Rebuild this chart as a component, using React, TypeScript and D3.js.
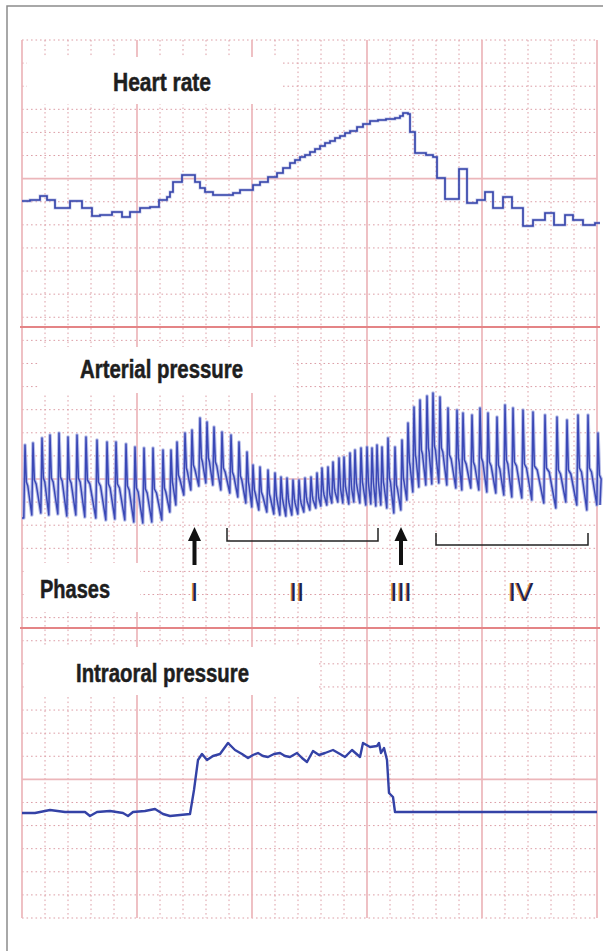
import React, { useRef, useEffect } from 'react'
import * as d3 from "d3";

// Heart rate (bpm), step trace
const hrTime = [0, 0.8, 1.8, 2.5, 3.3, 4.8, 6.0, 7.0, 7.8, 9.0, 10.0, 10.8, 11.8, 12.8, 13.7, 14.5, 14.8, 15.1, 16.0, 17.3, 17.8, 18.3, 19.1, 21.1, 21.8, 23.1, 23.8, 24.6, 25.5, 26.1, 26.8, 27.3, 27.8, 28.3, 28.8, 29.3, 29.8, 30.3, 30.8, 31.3, 31.8, 32.3, 32.8, 33.5, 34.1, 34.8, 35.6, 36.4, 37.3, 37.8, 38.1, 38.6, 38.8, 39.3, 40.4, 41.1, 41.5, 42.3, 43.7, 44.5, 45.5, 46.3, 47.1, 48.1, 49.0, 50.1, 51.1, 52.3, 53.2, 54.3, 55.1, 56.1, 57.3, 57.8];
const hrBpm = [89, 90, 94, 90, 82, 89, 82, 74, 75, 78, 73, 78, 82, 83, 90, 93, 98, 108, 115, 108, 102, 98, 95, 97, 100, 105, 108, 113, 117, 122, 127, 130, 133, 135, 138, 141, 144, 147, 149, 152, 154, 157, 159, 163, 166, 169, 170, 171, 172, 174, 177, 176, 158, 137, 135, 133, 112, 91, 121, 87, 90, 98, 82, 93, 82, 64, 70, 77, 65, 75, 70, 65, 67, 67];

// Arterial pressure, one entry per beat (peak time, systolic, dicrotic notch, diastolic before the beat)
const beatTime = [0.3, 1.1, 2.0, 2.8, 3.7, 4.6, 5.5, 6.4, 7.5, 8.5, 9.4, 10.4, 11.3, 12.2, 13.1, 14.1, 14.9, 15.5, 16.3, 17.0, 17.8, 18.5, 19.2,
    20.0, 20.9, 21.7, 22.5, 23.1, 23.8, 24.6, 25.3, 25.9, 26.5, 27.1, 27.7, 28.3, 28.9, 29.5, 30.0, 30.6, 31.1, 31.7, 32.2, 32.8, 33.3, 33.9, 34.5, 35.0, 35.5, 36.0, 36.6, 37.3, 38.0,
    38.6, 39.2, 39.8, 40.5, 41.1, 41.8, 42.6, 43.5, 44.1, 45.0, 45.8, 46.6, 47.5, 48.3, 49.1, 50.1, 51.1, 52.3, 53.5, 54.5, 55.6, 56.6, 57.6];
const apSys = [115, 117, 122, 125, 127, 123, 125, 123, 120, 118, 118, 116, 113, 112, 112, 110, 110, 118, 127, 130, 142, 138, 133,
    128, 125, 118, 108, 95, 93, 90, 87, 83, 82, 80, 80, 82, 83, 87, 92, 93, 98, 102, 103, 107, 110, 112, 113, 112, 115, 113, 122, 113, 120,
    137, 153, 160, 164, 167, 163, 152, 150, 147, 145, 152, 147, 143, 155, 152, 150, 148, 145, 143, 140, 145, 145, 127];
const apNotch = [78, 80, 82, 82, 83, 81, 82, 80, 78, 76, 76, 74, 72, 71, 71, 72, 78, 85, 92, 95, 102, 102, 98,
    92, 88, 84, 78, 70, 68, 66, 64, 62, 61, 61, 61, 63, 64, 66, 69, 70, 72, 74, 74, 75, 77, 78, 78, 78, 79, 78, 82, 75, 82,
    98, 105, 110, 112, 114, 112, 105, 102, 100, 98, 102, 98, 95, 100, 98, 96, 94, 92, 90, 90, 92, 92, 85];
const apDia = [42, 45, 47, 45, 46, 44, 45, 43, 42, 40, 41, 40, 38, 37, 38, 40, 48, 55, 65, 70, 74, 77, 75,
    70, 67, 63, 57, 53, 50, 48, 46, 45, 44, 45, 46, 48, 50, 52, 54, 55, 57, 58, 57, 56, 58, 57, 55, 56, 54, 55, 52, 47, 50,
    60, 68, 73, 75, 76, 77, 75, 72, 70, 72, 70, 68, 67, 65, 63, 62, 60, 57, 52, 58, 55, 50, 55];

// Intraoral pressure
const iopTime = [0, 1.3, 2.8, 4.3, 6.3, 6.8, 7.5, 8.8, 10.1, 10.6, 11.1, 12.3, 13.3, 14.1, 14.8, 15.8, 16.8, 17.2, 17.6, 18.0, 18.5, 19.1, 19.8, 20.6, 21.3, 22.0, 22.6, 23.1, 23.6, 24.1, 24.6, 25.2, 25.8, 26.3, 26.8, 27.5, 28.0, 28.5, 29.1, 29.7, 30.3, 31.1, 31.8, 32.3, 33.0, 33.8, 34.1, 34.8, 35.5, 35.7, 35.9, 36.2, 36.5, 36.7, 37.1, 37.3, 42.8, 57.5];
const iopValue = [-1, -1, 2, 0, 0, -4, 0, 1, -1, -4, 0, 1, 3, -2, -4, -3, -2, 22, 52, 58, 52, 56, 58, 69, 62, 58, 54, 57, 59, 56, 55, 58, 59, 56, 55, 59, 54, 50, 61, 57, 59, 62, 58, 55, 62, 55, 69, 65, 66, 69, 59, 64, 52, 19, 15, 0, 0, 0];

// Phases
const phaseLabels = ["I", "II", "III", "IV"];
const phaseTime = [17.25, 27.5, 37.9, 49.9];
const arrowTime = [17.25, 37.9];
const bracketStart = [20.5, 41.4];
const bracketEnd = [35.6, 56.6];

const panelTitles = ["Heart rate", "Arterial pressure", "Phases", "Intraoral pressure"];

function App() {

    const chartRef = useRef<SVGSVGElement>(null);

    useEffect(() => {
        if (!chartRef.current) return;
        const svg = d3.select(chartRef.current);
        svg.selectAll("*").remove();

        // chart paper
        const xPaper = d3.scaleLinear().domain([0, 25]).range([22, 597]);
        const yPaper = d3.scaleLinear().domain([0, 38]).range([40, 918]);
        const majorRows = [6, 19, 32];

        // time scale and one value scale per panel
        const x = d3.scaleLinear().domain([0, 57.5]).range([22, 597]);
        const yHr = d3.scaleLinear().domain([60, 180]).range([230, 110]);
        const yAp = d3.scaleLinear().domain([40, 170]).range([520, 390]);
        const yIop = d3.scaleLinear().domain([0, 70]).range([812, 742]);

        svg.append("rect").attr("width", 603).attr("height", 951).attr("fill", "#fff");

        const grid = svg.append("g");

        // dotted minor lines
        d3.range(0, 26).filter(i => i % 5 !== 0).forEach(i => {
            grid.append("line")
                .attr("x1", xPaper(i)).attr("x2", xPaper(i))
                .attr("y1", yPaper(0)).attr("y2", yPaper(38))
                .attr("stroke", "#dc9ea6").attr("stroke-width", 1)
                .attr("stroke-dasharray", "1.6 2.9");
        });
        d3.range(0, 39).filter(j => !majorRows.includes(j)).forEach(j => {
            grid.append("line")
                .attr("x1", xPaper(0)).attr("x2", xPaper(25))
                .attr("y1", yPaper(j)).attr("y2", yPaper(j))
                .attr("stroke", "#dc9ea6").attr("stroke-width", 1)
                .attr("stroke-dasharray", "1.6 2.9");
        });

        // solid major lines
        d3.range(0, 26, 5).forEach(i => {
            grid.append("line")
                .attr("x1", xPaper(i)).attr("x2", xPaper(i))
                .attr("y1", yPaper(0)).attr("y2", yPaper(38))
                .attr("stroke", "#ecb6ba").attr("stroke-width", 1.7);
        });
        majorRows.forEach(j => {
            grid.append("line")
                .attr("x1", xPaper(0)).attr("x2", xPaper(25))
                .attr("y1", yPaper(j)).attr("y2", yPaper(j))
                .attr("stroke", "#ecb6ba").attr("stroke-width", 1.7);
        });

        // panel separators
        [12.42, 25.45].forEach(j => {
            svg.append("line")
                .attr("x1", 20).attr("x2", 600)
                .attr("y1", yPaper(j)).attr("y2", yPaper(j))
                .attr("stroke", "#e48486").attr("stroke-width", 2);
        });

        // title boxes
        const titleLayout = [
            { box: [27, 57, 256, 47], x: 162, y: 91, w: 98 },
            { box: [38, 347, 255, 46], x: 161.5, y: 378, w: 163 },
            { box: [25, 563, 115, 49], x: 75, y: 598, w: 70 },
            { box: [25, 647, 293, 48], x: 162.5, y: 682, w: 173 },
        ];
        panelTitles.forEach((t, i) => {
            const l = titleLayout[i];
            svg.append("rect")
                .attr("x", l.box[0]).attr("y", l.box[1])
                .attr("width", l.box[2]).attr("height", l.box[3])
                .attr("fill", "#fff");
            svg.append("text")
                .attr("x", l.x).attr("y", l.y)
                .attr("text-anchor", "middle")
                .attr("font-family", "'Liberation Sans Narrow', 'Liberation Sans', Arial, sans-serif")
                .attr("font-weight", "bold")
                .attr("font-size", 25)
                .attr("textLength", l.w)
                .attr("lengthAdjust", "spacingAndGlyphs")
                .attr("fill", "#1e1e1e")
                .attr("stroke", "#1e1e1e")
                .attr("stroke-width", 0.5)
                .text(t);
        });

        // heart rate
        const hrLine = d3.line<number>()
            .x((d, i) => x(hrTime[i]))
            .y(d => yHr(d))
            .curve(d3.curveStepAfter);
        svg.append("path")
            .attr("d", hrLine(hrBpm))
            .attr("fill", "none")
            .attr("stroke", "#8a93d6")
            .attr("stroke-width", 2.8)
            .attr("opacity", 0.55);
        svg.append("path")
            .attr("d", hrLine(hrBpm))
            .attr("fill", "none")
            .attr("stroke", "#3443a9")
            .attr("stroke-width", 1.6);

        // arterial pressure: sharp upstroke to the peak, quick fall to the notch, slow decay
        const apPts: [number, number][] = [[0, apDia[0]]];
        beatTime.forEach((t, i) => {
            const next = i + 1 < beatTime.length ? beatTime[i + 1] : t + 0.9;
            apPts.push([t - 0.12, apDia[i]]);
            apPts.push([t, apSys[i]]);
            apPts.push([t + 0.14, apNotch[i]]);
            apPts.push([t + 0.35 * (next - t), apNotch[i] - 4]);
        });
        apPts.push([57.8, apDia[apDia.length - 1]]);
        const apLine = d3.line<[number, number]>()
            .x(d => x(d[0]))
            .y(d => yAp(d[1]));
        svg.append("path")
            .attr("d", apLine(apPts))
            .attr("fill", "none")
            .attr("stroke", "#a2a9e2")
            .attr("stroke-width", 3.6)
            .attr("stroke-linejoin", "round")
            .attr("opacity", 0.75);
        svg.append("path")
            .attr("d", apLine(apPts))
            .attr("fill", "none")
            .attr("stroke", "#3a48b6")
            .attr("stroke-width", 1.5)
            .attr("stroke-linejoin", "round");

        // intraoral pressure
        const iopLine = d3.line<number>()
            .x((d, i) => x(iopTime[i]))
            .y(d => yIop(d));
        svg.append("path")
            .attr("d", iopLine(iopValue))
            .attr("fill", "none")
            .attr("stroke", "#3442a6")
            .attr("stroke-width", 2.4)
            .attr("stroke-linejoin", "round");

        // phase arrows
        arrowTime.forEach(t => {
            const ax = x(t);
            svg.append("rect")
                .attr("x", ax - 2).attr("y", 539)
                .attr("width", 4).attr("height", 26)
                .attr("fill", "#111");
            svg.append("path")
                .attr("d", `M${ax - 6.5},541 L${ax},527 L${ax + 6.5},541 Z`)
                .attr("fill", "#111");
        });

        // phase brackets
        const bracketY = [[528, 541], [533, 545]];
        bracketStart.forEach((t0, i) => {
            const [top, bottom] = bracketY[i];
            svg.append("path")
                .attr("d", `M${x(t0)},${top} V${bottom} H${x(bracketEnd[i])} V${top}`)
                .attr("fill", "none")
                .attr("stroke", "#222")
                .attr("stroke-width", 1.5);
        });

        // phase numerals
        phaseLabels.forEach((p, i) => {
            [["#d08a3c", -1.2], ["#1c2350", 0]].forEach(([c, dx]) => {
                svg.append("text")
                    .attr("x", x(phaseTime[i]) + (dx as number))
                    .attr("y", 601)
                    .attr("text-anchor", "middle")
                    .attr("font-family", "'Liberation Sans', Arial, sans-serif")
                    .attr("font-size", 26)
                    .attr("fill", c as string)
                    .text(p);
            });
        });

        // outer frame
        svg.append("path")
            .attr("d", "M7,951 V6 H603")
            .attr("fill", "none")
            .attr("stroke", "#8c8c8c")
            .attr("stroke-width", 1.5);
    }, []);

    return (
        <svg ref={chartRef} width={603} height={951}
            style={{ position: "absolute", left: 0, top: 0, display: "block" }}></svg>
    )
}

export default App
